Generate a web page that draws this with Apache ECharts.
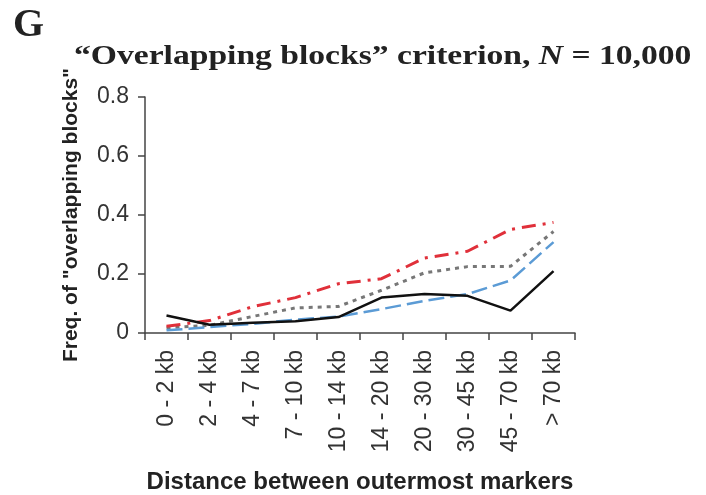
<!DOCTYPE html>
<html>
<head>
<meta charset="utf-8">
<script src="https://cdn.jsdelivr.net/npm/echarts@6/dist/echarts.min.js"></script>
<style>
html,body{margin:0;padding:0;background:#fff;}
#chart{width:706px;height:495px;}
</style>
</head>
<body>
<div id="chart"></div>
<script>
var categories = ['0 - 2 kb','2 - 4 kb','4 - 7 kb','7 - 10 kb','10 - 14 kb','14 - 20 kb','20 - 30 kb','30 - 45 kb','45 - 70 kb','> 70 kb'];
var blackSolid = [0.059,0.028,0.035,0.040,0.054,0.120,0.132,0.126,0.076,0.210];
var redDashDot = [0.023,0.042,0.089,0.120,0.167,0.184,0.254,0.277,0.351,0.375];
var grayDotted = [0.018,0.026,0.056,0.085,0.090,0.145,0.204,0.225,0.226,0.344];
var blueDashed = [0.009,0.020,0.031,0.045,0.056,0.081,0.109,0.132,0.178,0.308];
var yTickLabels = ['0','0.2','0.4','0.6','0.8'];

var chart = echarts.init(document.getElementById('chart'));
chart.setOption({
  animation: false,
  backgroundColor: '#fff',
  title: [
    {
      text: 'G', left: 8, top: 1,
      textStyle: {fontFamily: 'Liberation Serif', fontWeight: 'bold', fontSize: 40, color: '#222'}
    }
  ],
  graphic: [
    {
      type: 'text',
      x: 74, y: 57,
      scaleX: 1.2,
      style: {
        x: 0, y: 0,
        text: '\u201COverlapping blocks\u201D criterion, {i|N} = 10,000',
        fontFamily: 'Liberation Serif', fontWeight: 'bold', fontSize: 28, fill: '#222',
        verticalAlign: 'middle', align: 'left',
        rich: {i: {fontFamily: 'Liberation Serif', fontWeight: 'bold', fontStyle: 'italic', fontSize: 28, fill: '#222'}}
      }
    }
  ],
  grid: {left: 145, right: 131, top: 97, bottom: 159, containLabel: false},
  xAxis: {
    type: 'category',
    data: categories,
    boundaryGap: true,
    name: 'Distance between outermost markers',
    nameLocation: 'middle',
    nameGap: 137,
    nameTextStyle: {fontFamily: 'Liberation Sans', fontWeight: 'bold', fontSize: 24, color: '#222'},
    axisLine: {lineStyle: {color: '#444', width: 1.5}},
    axisTick: {show: true, length: 7, lineStyle: {color: '#444', width: 1.5}},
    axisLabel: {rotate: 90, margin: 17, interval: 0, fontFamily: 'Liberation Sans', fontSize: 23, color: '#333'},
    splitLine: {show: false}
  },
  yAxis: {
    type: 'value',
    min: 0, max: 0.8, interval: 0.2,
    name: 'Freq. of "overlapping blocks"',
    nameLocation: 'middle',
    nameRotate: 90,
    nameGap: 63,
    nameTextStyle: {fontFamily: 'Liberation Sans', fontWeight: 'bold', fontSize: 21, color: '#222'},
    axisLine: {show: true, lineStyle: {color: '#444', width: 1.5}},
    axisTick: {show: true, length: 7, lineStyle: {color: '#444', width: 1.5}},
    axisLabel: {
      margin: 16, fontFamily: 'Liberation Sans', fontSize: 23, color: '#333',
      formatter: function (v) { return yTickLabels[Math.round(v / 0.2)]; }
    },
    splitLine: {show: false}
  },
  series: [
    {type: 'line', data: grayDotted, symbol: 'none', lineStyle: {color: '#777', width: 3, type: [4, 5]}},
    {type: 'line', data: blueDashed, symbol: 'none', lineStyle: {color: '#5b9bd5', width: 2.5, type: [16, 6]}},
    {type: 'line', data: redDashDot, symbol: 'none', lineStyle: {color: '#e0303a', width: 3, type: [14, 7, 3, 7]}},
    {type: 'line', data: blackSolid, symbol: 'none', lineStyle: {color: '#111', width: 2.5, type: 'solid'}}
  ]
});
</script>
</body>
</html>
